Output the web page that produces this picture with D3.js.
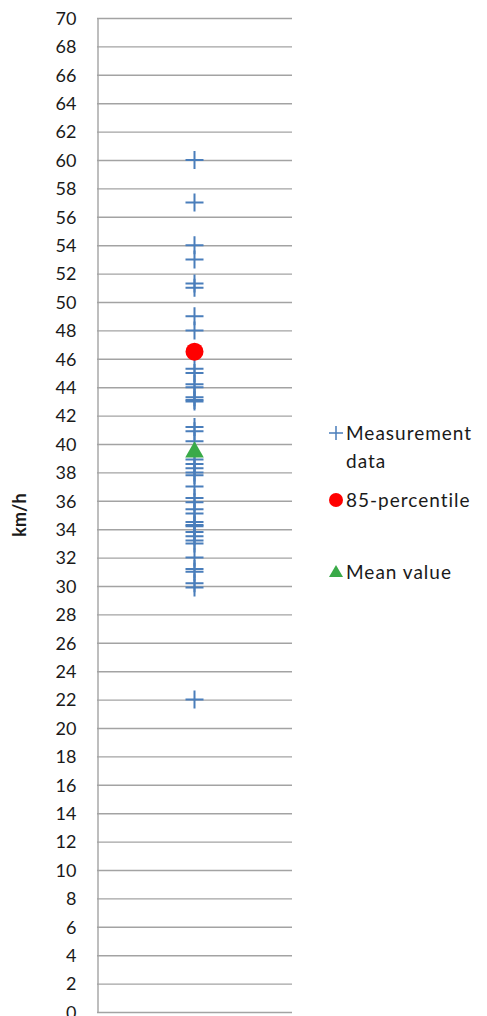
<!DOCTYPE html>
<html>
<head>
<meta charset="utf-8">
<script src="https://cdn.jsdelivr.net/npm/d3@7"></script>
<style>
  html, body { margin: 0; padding: 0; background: #fff; }
  svg { display: block; }
  text { font-family: Lato, "Open Sans", sans-serif; fill: #1a1a1a; }
</style>
</head>
<body>
<svg id="chart" width="487" height="1016"></svg>
<script>
// Spot speed measurements (km/h)
const measurements = [60, 57, 54, 53, 51.3, 51, 49, 48, 45.3, 45, 44.2, 44, 43.3, 43.1, 43,
  41.2, 40.9, 40.2, 38.9, 38.6, 38.3, 38, 37.8, 37, 36.2, 35.9, 35.4, 35.1, 34.5, 34.3,
  34.2, 33.8, 33.5, 33.2, 33, 32, 31.2, 31, 30.2, 29.9, 22];
const percentile85 = [46.5];
const meanValue = [39.5];
const yTicks = d3.range(0, 71, 2);
const categories = ["Site"];
const legendLabels = [["Measurement", "data"], ["85-percentile"], ["Mean value"]];

const svg = d3.select("#chart");
const plotLeft = 97, plotRight = 292;

const y = d3.scaleLinear().domain([0, 70]).range([1012, 18]);
const x = d3.scalePoint().domain(categories).range([plotLeft, plotRight]).padding(0.5);

// horizontal gridlines
svg.append("g")
  .selectAll("line")
  .data(yTicks)
  .join("line")
  .attr("x1", plotLeft).attr("x2", plotRight)
  .attr("y1", d => y(d) + 0.5).attr("y2", d => y(d) + 0.5)
  .attr("stroke", "#a3a3a3").attr("stroke-width", 1.4);

// y axis
const yAxis = d3.axisLeft(y).tickValues(yTicks).tickSize(0).tickPadding(21);
const gy = svg.append("g").attr("transform", `translate(${plotLeft + 0.5},0.5)`).call(yAxis);
gy.select(".domain").attr("stroke", "#a3a3a3").attr("stroke-width", 1.4);
gy.selectAll("text").attr("font-size", 18).attr("font-family", "Lato, sans-serif").attr("fill", "#1a1a1a");

// axis title
svg.append("text")
  .attr("transform", `translate(26,${y(35)}) rotate(-90)`)
  .attr("text-anchor", "middle")
  .attr("font-size", 18).attr("font-weight", "bold")
  .attr("fill", "#000")
  .text("km/h");

const cx = x(categories[0]);
const plusSize = 9;

// measurement markers
svg.append("g").selectAll("path")
  .data(measurements)
  .join("path")
  .attr("d", d => `M${cx - plusSize},${y(d)}H${cx + plusSize}M${cx},${y(d) - plusSize}V${y(d) + plusSize}`)
  .attr("stroke", "#4a7ebb").attr("stroke-width", 2).attr("fill", "none");

// 85th percentile
svg.append("g").selectAll("circle")
  .data(percentile85)
  .join("circle")
  .attr("cx", cx).attr("cy", d => y(d)).attr("r", 9)
  .attr("fill", "#ff0000");

// mean value
svg.append("g").selectAll("path")
  .data(meanValue)
  .join("path")
  .attr("transform", d => `translate(${cx},${y(d) + 1})`)
  .attr("d", d3.symbol().type(d3.symbolTriangle).size(150))
  .attr("fill", "#3aaa48");

// legend
const legend = svg.append("g");
const lx = 336;
const legendY = [433, 500, 572];

legend.append("path")
  .attr("d", `M${lx - 7},${legendY[0]}H${lx + 7}M${lx},${legendY[0] - 7}V${legendY[0] + 7}`)
  .attr("stroke", "#4a7ebb").attr("stroke-width", 1.5);
legend.append("circle").attr("cx", lx).attr("cy", legendY[1]).attr("r", 7).attr("fill", "#ff0000");
legend.append("path")
  .attr("transform", `translate(${lx},${legendY[2] + 1})`)
  .attr("d", d3.symbol().type(d3.symbolTriangle).size(85))
  .attr("fill", "#3aaa48");

legendLabels.forEach((lines, i) => {
  const t = legend.append("text")
    .attr("x", lx + 10).attr("y", legendY[i] + 7)
    .attr("font-size", 19).attr("letter-spacing", 1);
  lines.forEach((ln, j) => {
    t.append("tspan").attr("x", lx + 10).attr("dy", j === 0 ? 0 : 28).text(ln);
  });
});
</script>
</body>
</html>
